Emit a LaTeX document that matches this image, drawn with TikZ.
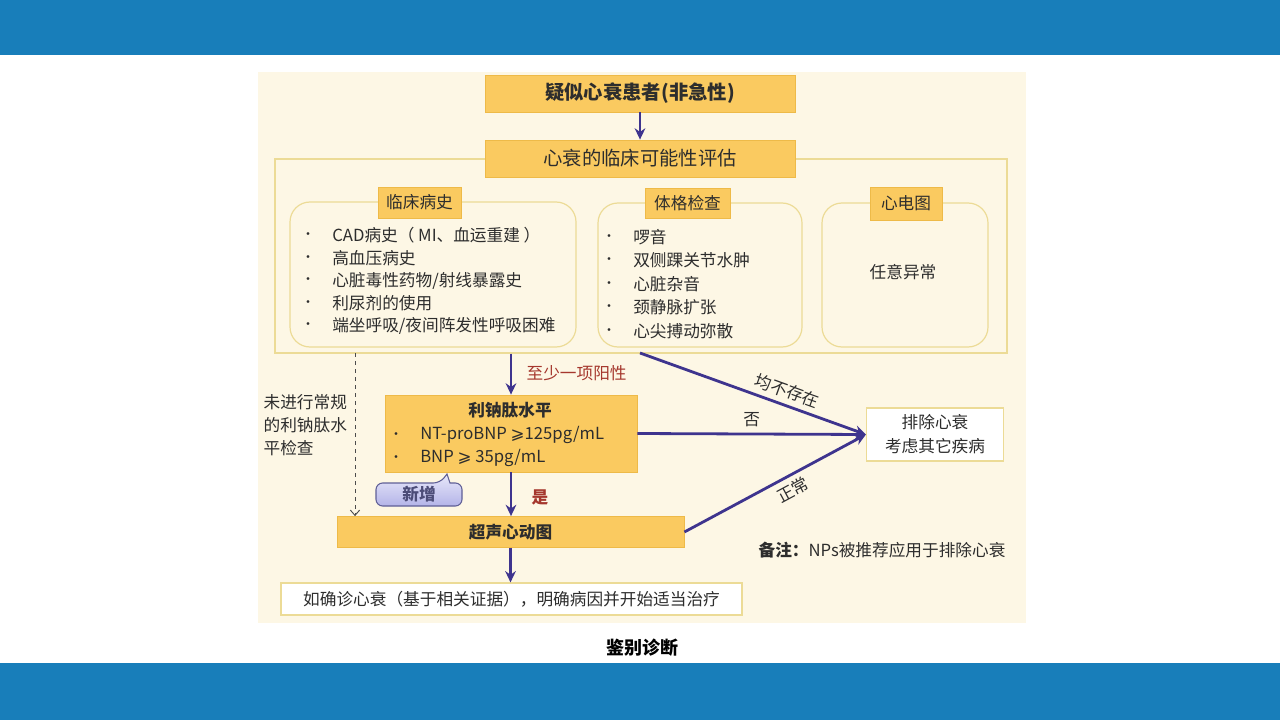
\documentclass[tikz,border=0pt]{standalone}
\usepackage{fontspec}
\setmainfont{Noto Sans CJK SC}
\newfontfamily\symfont{DejaVu Sans}
\usetikzlibrary{arrows.meta}
\definecolor{barblue}{RGB}{24,126,186}
\definecolor{cream}{RGB}{253,247,229}
\definecolor{boxor}{RGB}{250,202,96}
\definecolor{boxbd}{RGB}{238,186,72}
\definecolor{framec}{RGB}{236,219,150}
\definecolor{arrc}{RGB}{62,52,142}
\definecolor{redlab}{RGB}{165,55,45}
\definecolor{txt}{RGB}{45,45,45}
\definecolor{cbd}{RGB}{95,95,150}
\definecolor{ctop}{RGB}{232,232,250}
\definecolor{cbot}{RGB}{180,180,232}
\tikzset{
  obox/.style={fill=boxor, draw=boxbd, line width=0.6pt, inner sep=0pt, text=txt},
  rbox/.style={draw=framec, line width=0.9pt, rounded corners=15pt, fill=cream, inner sep=0pt},
  wbox/.style={draw=framec, line width=0.9pt, fill=white, inner sep=0pt, text=txt},
  itm/.style={font=\fontsize{12.5}{15}\selectfont, text=txt, inner sep=0pt, anchor=west},
  bul/.style={font=\symfont\fontsize{7}{8}\selectfont, text=txt, inner sep=0pt},
  arr/.style={draw=arrc, line width=2.1pt, -{Stealth[length=8.5pt,width=8pt]}},
  darr/.style={draw=gray!60!black, line width=0.7pt, dashed, -{Straight Barb[length=4pt,width=7pt]}},
  lab/.style={font=\fontsize{12.5}{15}\selectfont, inner sep=1pt, text=txt},
}
\begin{document}
\begin{tikzpicture}[x=0.75pt,y=-0.75pt]
\fill[white] (0,0) rectangle (1280,720);
\useasboundingbox (0,0) rectangle (1280,720);
\fill[barblue] (0,0) rectangle (1280,55);
\fill[barblue] (0,663) rectangle (1280,720);
\fill[cream] (258,72) rectangle (1026,623);

% evaluation frame
\node[draw=framec, line width=0.9pt, minimum width=732*0.75pt, minimum height=194*0.75pt, inner sep=0pt] (frame) at (641,256) {};

\node[obox, minimum width=310*0.75pt, minimum height=37*0.75pt, font=\fontsize{14.5}{17}\selectfont\bfseries] (sus) at (640,93.5) {疑似心衰患者(非急性)};
\node[obox, minimum width=310*0.75pt, minimum height=37*0.75pt, font=\fontsize{14.5}{17}\selectfont] (eval) at (640,158.5) {心衰的临床可能性评估};
\draw[arr] (sus) -- (eval);

% three groups
\node[rbox, minimum width=286*0.75pt, minimum height=145*0.75pt] (hist) at (433,274.5) {};
\node[obox, minimum width=83*0.75pt, minimum height=31*0.75pt, font=\fontsize{12.5}{15}\selectfont] (histt) at (419.5,202.5) {临床病史};
\node[rbox, minimum width=204*0.75pt, minimum height=144*0.75pt] (phys) at (700,275) {};
\node[obox, minimum width=85*0.75pt, minimum height=30*0.75pt, font=\fontsize{12.5}{15}\selectfont] (physt) at (687.5,203) {体格检查};
\node[rbox, minimum width=166*0.75pt, minimum height=144*0.75pt] (ecg) at (905,275) {};
\node[obox, minimum width=72*0.75pt, minimum height=33*0.75pt, font=\fontsize{12.5}{15}\selectfont] (ecgt) at (906,203.5) {心电图};

\foreach \t [count=\i] in {CAD病史（ MI、血运重建 ）,高血压病史,心脏毒性药物/射线暴露史,利尿剂的使用,端坐呼吸/夜间阵发性呼吸困难} {
  \node[bul] (hb\i) at (308,213+22.5*\i) {•};
  \node[itm] (hi\i) at (332,213+22.5*\i) {\t};
}
\foreach \t [count=\i] in {啰音,双侧踝关节水肿,心脏杂音,颈静脉扩张,心尖搏动弥散} {
  \node[bul] (pb\i) at (609,213.5+23.5*\i) {•};
  \node[itm] (pi\i) at (633,213.5+23.5*\i) {\t};
}
\node[itm, anchor=center] (ecgtxt) at (903,272) {任意异常};

% natriuretic peptide box
\node[obox, minimum width=252*0.75pt, minimum height=77*0.75pt] (ntb) at (511,433.5) {};
\node[font=\fontsize{12.5}{15}\selectfont\bfseries, text=txt, inner sep=0pt] (ntt) at (510,410) {利钠肽水平};
\node[bul] (nb1) at (396,435) {•};
\node[itm] (nl1) at (420,435) {NT-proBNP {\symfont ⩾}125pg/mL};
\node[bul] (nb2) at (396,458) {•};
\node[itm] (nl2) at (420,458) {BNP {\symfont ⩾} 35pg/mL};

\draw[arr] (ntb.north |- frame.south) -- (ntb.north);
\node[lab, text=redlab, anchor=west] (pos) at (525,373) {至少一项阳性};

% callout
\path[draw=cbd, line width=0.8pt, top color=ctop, bottom color=cbot, rounded corners=5pt]
  (376,483) -- (440,483) [sharp corners] -- (447,474) -- (450,483) [rounded corners=5pt] -- (462,483) -- (462,506) -- (376,506) -- cycle;
\node[font=\fontsize{12.5}{15}\selectfont\bfseries, text=cbd!80!black, inner sep=0pt] (newtag) at (419,494.5) {新增};

% echo
\node[obox, minimum width=347*0.75pt, minimum height=31*0.75pt, font=\fontsize{12.5}{15}\selectfont\bfseries] (echo) at (510.5,532) {超声心动图};
\draw[arr] (ntb.south) -- (ntb.south |- echo.north);
\node[lab, text=redlab, font=\fontsize{12.5}{15}\selectfont\bfseries] (yes) at (540,497) {是};

\node[wbox, minimum width=461*0.75pt, minimum height=32*0.75pt, font=\fontsize{12.5}{15}\selectfont] (final) at (511.5,599) {如确诊心衰（基于相关证据），明确病因并开始适当治疗};
\draw[arr] (echo.south) -- (echo.south |- final.north);

% left note and dashed arrow
\node[lab, align=left, anchor=west, font=\fontsize{12.5}{17.25}\selectfont] (note) at (262,425) {未进行常规\\的利钠肽水\\平检查};
\coordinate (d1) at (355,353);
\draw[darr] (d1) -- (d1 |- echo.north);

% rule-out box
\node[wbox, minimum width=137*0.75pt, minimum height=53*0.75pt, align=center, font=\fontsize{12.5}{18}\selectfont] (rule) at (935,434.5) {排除心衰\\考虑其它疾病};
\coordinate (n1) at (640,353);
\draw[arr] (n1) -- node[pos=0.63, sloped, above=3pt, lab] (lb1) {均不存在} (rule.west);
\draw[arr] (ntb.east) -- node[pos=0.5, above=3pt, lab] (lb2) {否} (rule.west);
\draw[arr] (echo.east) -- node[pos=0.56, sloped, below=3pt, lab] (lb3) {正常} (rule.west);

\node[lab, anchor=west] (remark) at (757,550) {\textbf{备注：}NPs被推荐应用于排除心衰};
\node[font=\fontsize{13.5}{16}\selectfont\bfseries, text=black, inner sep=0pt] (cap) at (642,648) {鉴别诊断};
\end{tikzpicture}
\end{document}
